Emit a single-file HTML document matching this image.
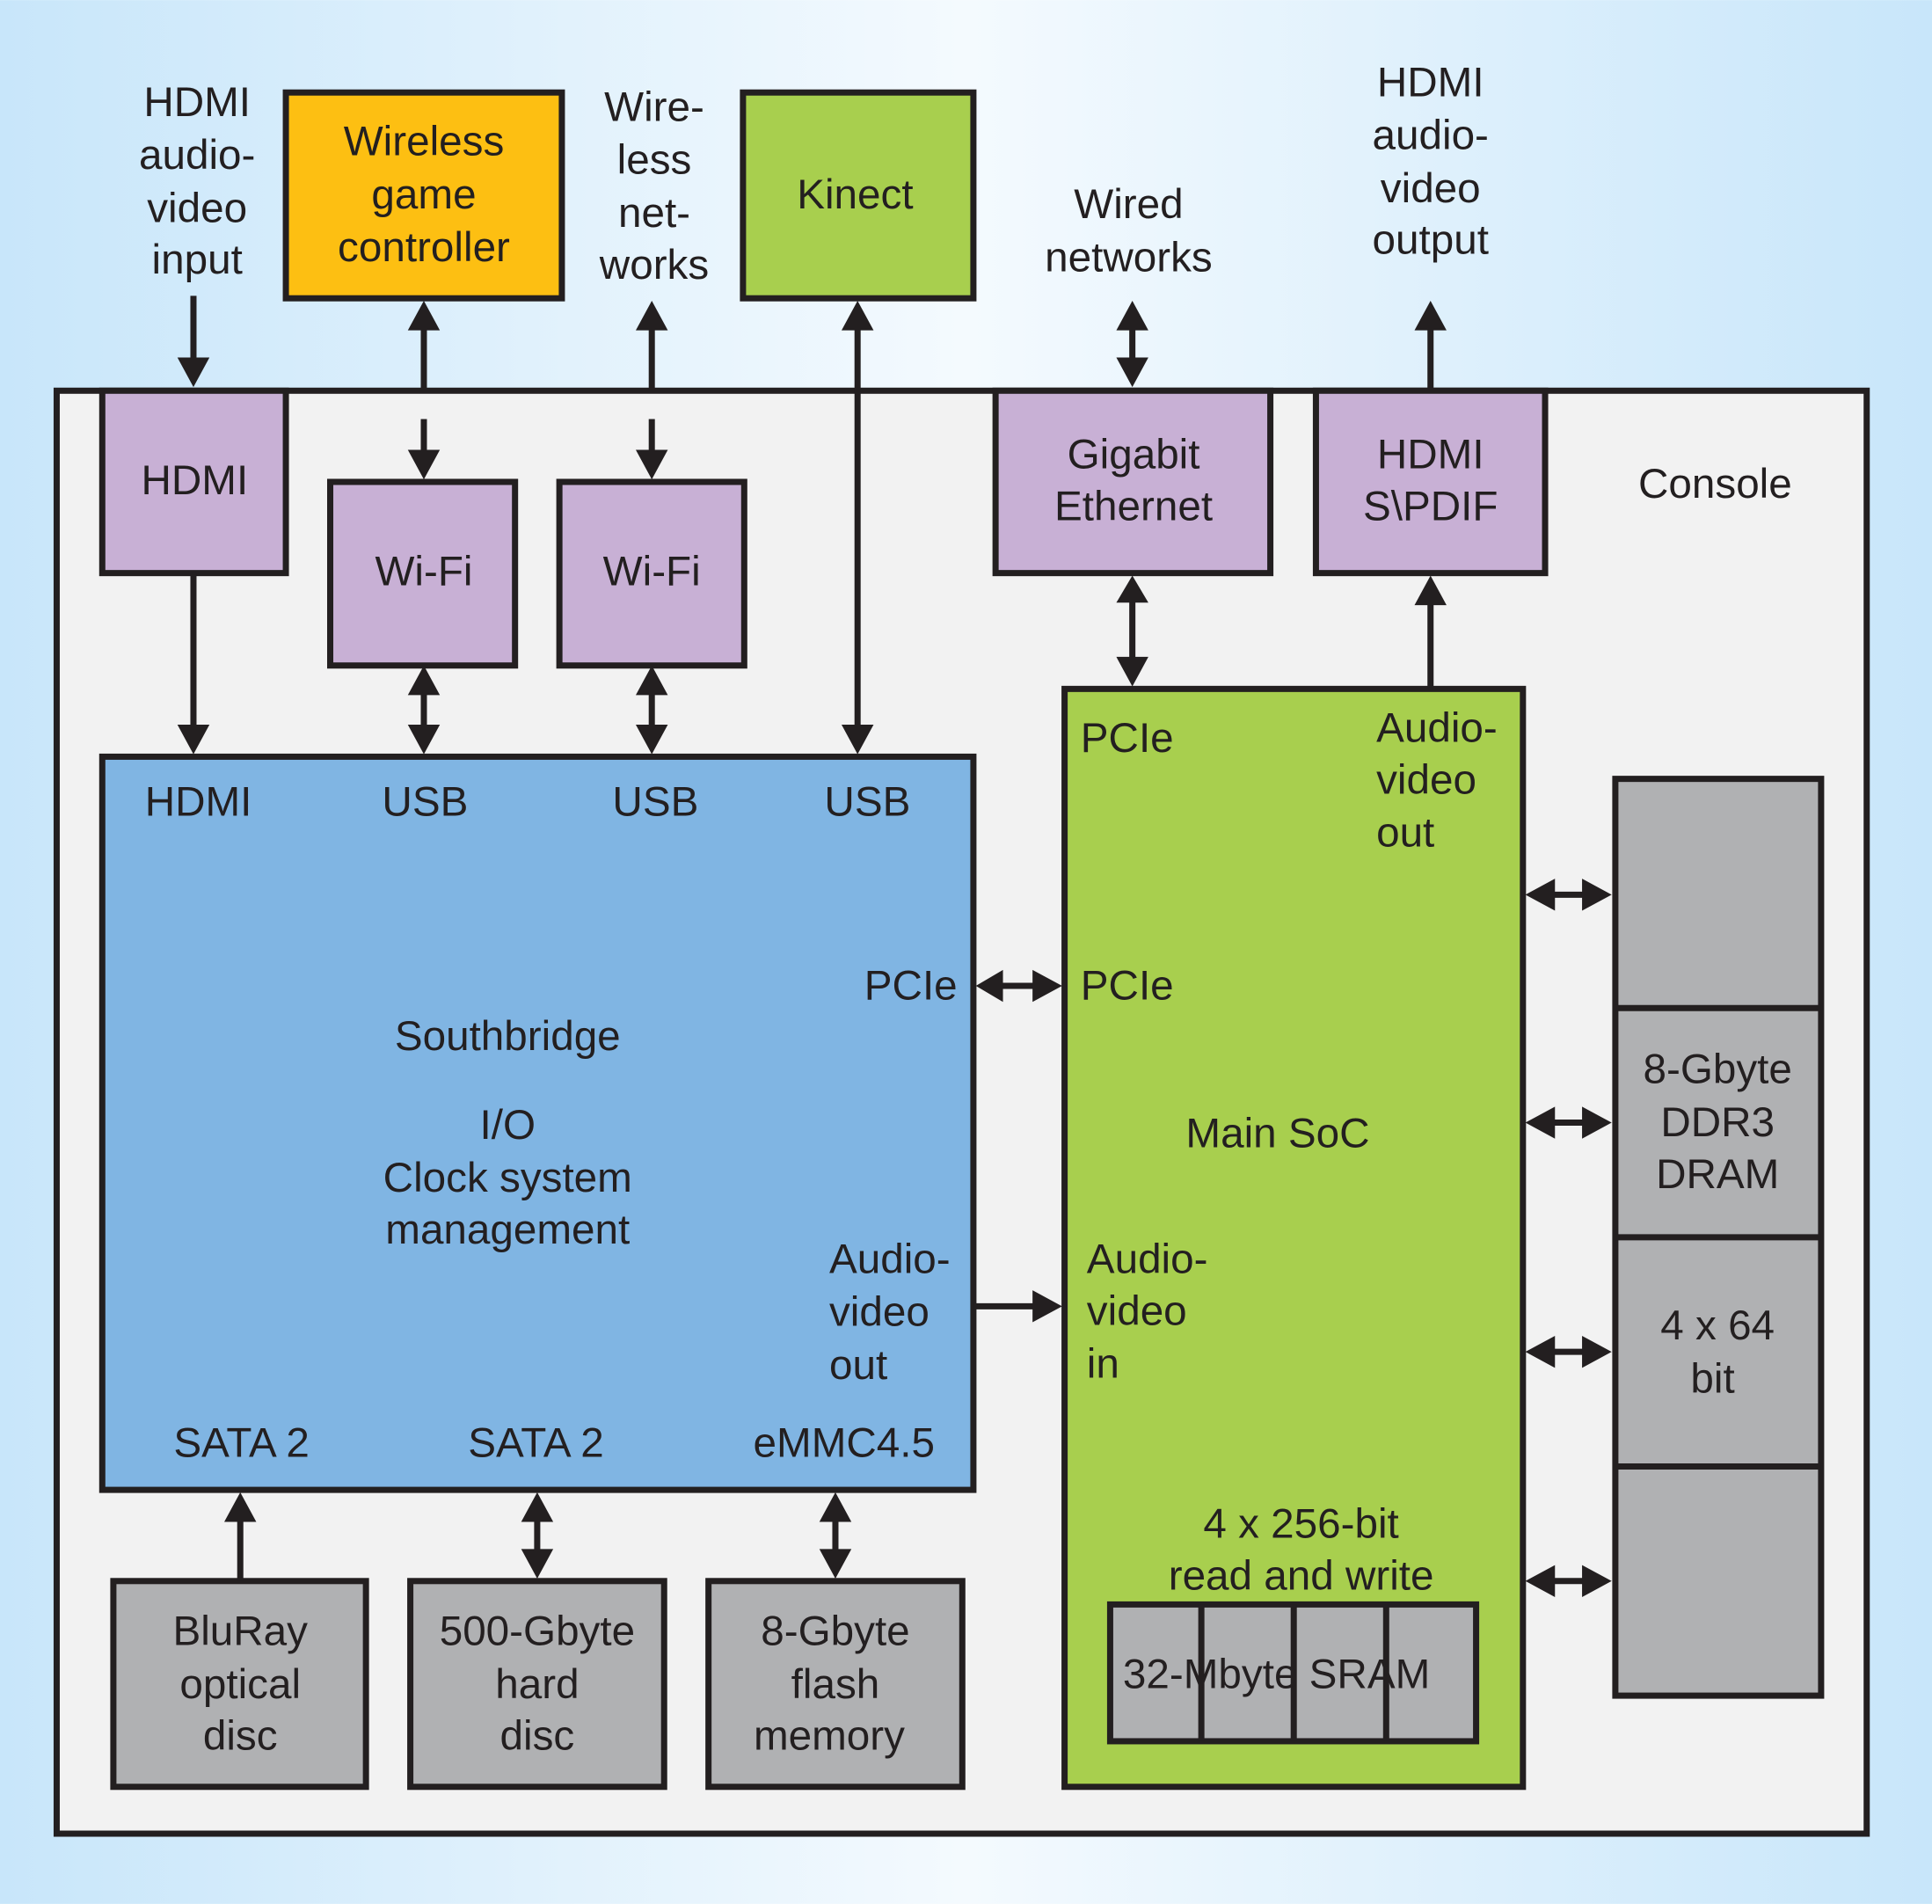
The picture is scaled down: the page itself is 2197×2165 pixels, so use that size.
<!DOCTYPE html>
<html><head><meta charset="utf-8"><style>html,body{margin:0;padding:0}svg{display:block}</style></head><body>
<svg width="2197" height="2165" viewBox="0 0 1568 1545" xmlns="http://www.w3.org/2000/svg" font-family="Liberation Sans, sans-serif" font-size="34" fill="#231f20">
<defs><linearGradient id="bg" x1="0" x2="1" y1="0" y2="0"><stop offset="0" stop-color="#c8e6fa"/><stop offset="0.5" stop-color="#f4fafe"/><stop offset="1" stop-color="#c8e6fa"/></linearGradient></defs>
<rect width="1568" height="1545" fill="url(#bg)"/>
<g stroke="#231f20" stroke-width="5">
<rect x="46" y="317" width="1469" height="1171" fill="#f2f2f2"/>
<rect x="83" y="317" width="149" height="148" fill="#c8b0d5"/>
<rect x="232" y="75" width="224" height="167" fill="#fdbf12"/>
<rect x="603" y="75" width="187" height="167" fill="#a8cf4e"/>
<rect x="268" y="391" width="150" height="149" fill="#c8b0d5"/>
<rect x="454" y="391" width="150" height="149" fill="#c8b0d5"/>
<rect x="808" y="317" width="223" height="148" fill="#c8b0d5"/>
<rect x="1068" y="317" width="186" height="148" fill="#c8b0d5"/>
<rect x="83" y="614" width="707" height="595" fill="#80b5e3"/>
<rect x="864" y="559" width="372" height="891" fill="#a8cf4e"/>
<rect x="1311" y="632" width="167" height="744" fill="#b0b1b3"/>
<line x1="1311" y1="818" x2="1478" y2="818"/><line x1="1311" y1="1004" x2="1478" y2="1004"/><line x1="1311" y1="1190" x2="1478" y2="1190"/>
<rect x="901" y="1302" width="297" height="111" fill="#b0b1b3"/>
<line x1="975" y1="1302" x2="975" y2="1413"/><line x1="1050" y1="1302" x2="1050" y2="1413"/><line x1="1125" y1="1302" x2="1125" y2="1413"/>
<rect x="92" y="1283" width="205" height="167" fill="#b0b1b3"/>
<rect x="333" y="1283" width="206" height="167" fill="#b0b1b3"/>
<rect x="575" y="1283" width="206" height="167" fill="#b0b1b3"/>
<!-- lines -->
<line x1="157" y1="240" x2="157" y2="295"/>
<line x1="344" y1="265" x2="344" y2="315"/><line x1="344" y1="340" x2="344" y2="370"/>
<line x1="529" y1="265" x2="529" y2="315"/><line x1="529" y1="340" x2="529" y2="370"/>
<line x1="696" y1="265" x2="696" y2="592"/>
<line x1="919" y1="265" x2="919" y2="295"/>
<line x1="1161" y1="265" x2="1161" y2="315"/>
<line x1="157" y1="465" x2="157" y2="592"/>
<line x1="344" y1="560" x2="344" y2="592"/><line x1="529" y1="560" x2="529" y2="592"/>
<line x1="919" y1="487" x2="919" y2="537"/>
<line x1="1161" y1="487" x2="1161" y2="557"/>
<line x1="810" y1="800" x2="842" y2="800"/>
<line x1="790" y1="1060" x2="842" y2="1060"/>
<line x1="195" y1="1231" x2="195" y2="1283"/>
<line x1="436" y1="1231" x2="436" y2="1261"/><line x1="678" y1="1231" x2="678" y2="1261"/>
</g>
<g fill="#231f20">
<!-- down arrows -->
<polygon points="144,290 170,290 157,314"/>
<polygon points="331,365 357,365 344,389"/>
<polygon points="516,365 542,365 529,389"/>
<polygon points="683,588 709,588 696,612"/>
<polygon points="906,290 932,290 919,314"/>
<polygon points="144,588 170,588 157,612"/>
<polygon points="331,588 357,588 344,612"/>
<polygon points="516,588 542,588 529,612"/>
<polygon points="906,533 932,533 919,557"/>
<polygon points="423,1257 449,1257 436,1281"/>
<polygon points="665,1257 691,1257 678,1281"/>
<!-- up arrows -->
<polygon points="331,268 357,268 344,244"/>
<polygon points="516,268 542,268 529,244"/>
<polygon points="683,268 709,268 696,244"/>
<polygon points="906,268 932,268 919,244"/>
<polygon points="1148,268 1174,268 1161,244"/>
<polygon points="331,564 357,564 344,540"/>
<polygon points="516,564 542,564 529,540"/>
<polygon points="906,489 932,489 919,467"/>
<polygon points="1148,491 1174,491 1161,467"/>
<polygon points="182,1235 208,1235 195,1211"/>
<polygon points="423,1235 449,1235 436,1211"/>
<polygon points="665,1235 691,1235 678,1211"/>
<!-- horizontal -->
<polygon points="814,787 814,813 792,800"/>
<polygon points="838,787 838,813 862,800"/>
<polygon points="838,1047 838,1073 862,1060"/>
</g>
<g stroke="#231f20" stroke-width="5"><line x1="1256" y1="726" x2="1290" y2="726"/><line x1="1256" y1="911" x2="1290" y2="911"/><line x1="1256" y1="1097" x2="1290" y2="1097"/><line x1="1256" y1="1283" x2="1290" y2="1283"/></g>
<g fill="#231f20">
<polygon points="1262,713 1262,739 1238,726"/><polygon points="1284,713 1284,739 1308,726"/>
<polygon points="1262,898 1262,924 1238,911"/><polygon points="1284,898 1284,924 1308,911"/>
<polygon points="1262,1084 1262,1110 1238,1097"/><polygon points="1284,1084 1284,1110 1308,1097"/>
<polygon points="1262,1270 1262,1296 1238,1283"/><polygon points="1284,1270 1284,1296 1308,1283"/>
</g>
<g text-anchor="middle">
<text x="160" y="94">HDMI</text><text x="160" y="137">audio-</text><text x="160" y="180">video</text><text x="160" y="222">input</text>
<text x="344" y="126">Wireless</text><text x="344" y="169">game</text><text x="344" y="212">controller</text>
<text x="531" y="98">Wire-</text><text x="531" y="141">less</text><text x="531" y="184">net-</text><text x="531" y="226">works</text>
<text x="694" y="169">Kinect</text>
<text x="916" y="177">Wired</text><text x="916" y="220">networks</text>
<text x="1161" y="78">HDMI</text><text x="1161" y="121">audio-</text><text x="1161" y="164">video</text><text x="1161" y="206">output</text>
<text x="158" y="401">HDMI</text>
<text x="344" y="475">Wi-Fi</text><text x="529" y="475">Wi-Fi</text>
<text x="920" y="380">Gigabit</text><text x="920" y="422">Ethernet</text>
<text x="1161" y="380">HDMI</text><text x="1161" y="422">S\PDIF</text>
<text x="1392" y="404">Console</text>
<text x="161" y="662">HDMI</text><text x="345" y="662">USB</text><text x="532" y="662">USB</text><text x="704" y="662">USB</text>
<text x="412" y="852">Southbridge</text>
<text x="412" y="924">I/O</text><text x="412" y="967">Clock system</text><text x="412" y="1009">management</text>
<text x="196" y="1182">SATA 2</text><text x="435" y="1182">SATA 2</text><text x="685" y="1182">eMMC4.5</text>
<text x="1037" y="931">Main SoC</text>
<text x="1056" y="1248">4 x 256-bit</text><text x="1056" y="1290">read and write</text>
<text x="1036" y="1370">32-Mbyte SRAM</text>
<text x="1394" y="879">8-Gbyte</text><text x="1394" y="922">DDR3</text><text x="1394" y="964">DRAM</text>
<text x="1394" y="1087">4 x 64</text><text x="1390" y="1130">bit</text>
<text x="195" y="1335">BluRay</text><text x="195" y="1378">optical</text><text x="195" y="1420">disc</text>
<text x="436" y="1335">500-Gbyte</text><text x="436" y="1378">hard</text><text x="436" y="1420">disc</text>
<text x="678" y="1335">8-Gbyte</text><text x="678" y="1378">flash</text><text x="673" y="1420">memory</text>
</g>
<text x="777" y="811" text-anchor="end">PCIe</text>
<text x="673" y="1033">Audio-</text><text x="673" y="1076">video</text><text x="673" y="1119">out</text>
<text x="877" y="610">PCIe</text><text x="877" y="811">PCIe</text>
<text x="1117" y="602">Audio-</text><text x="1117" y="644">video</text><text x="1117" y="687">out</text>
<text x="882" y="1033">Audio-</text><text x="882" y="1075">video</text><text x="882" y="1118">in</text>
</svg>
</body></html>
